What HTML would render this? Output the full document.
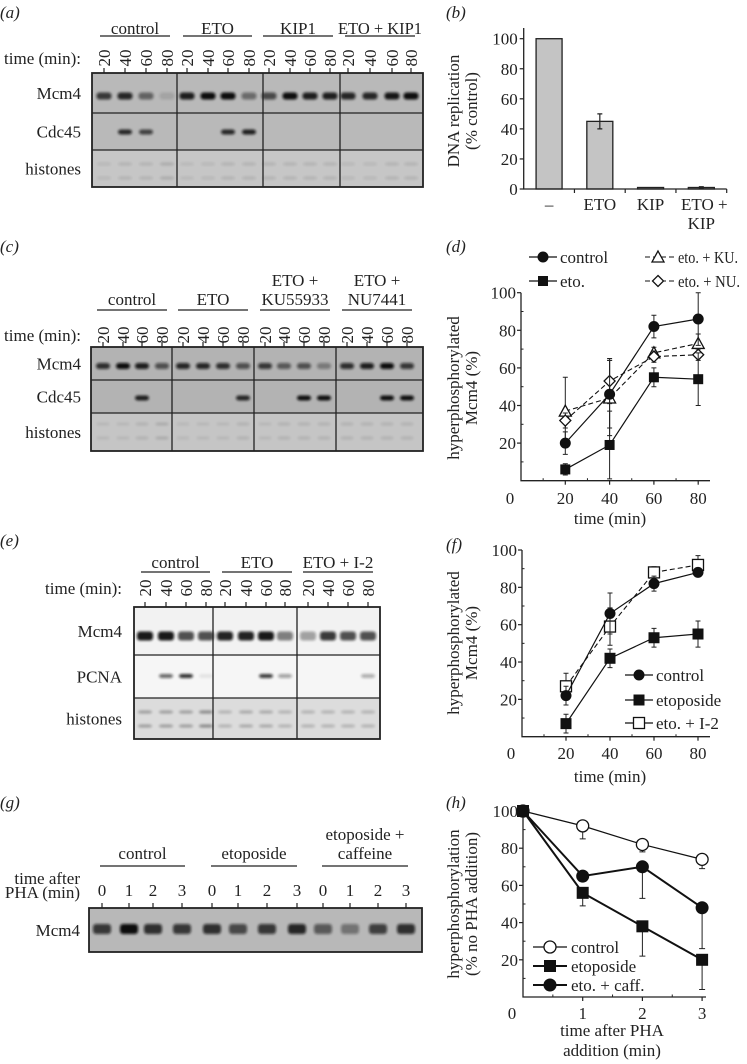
<!DOCTYPE html>
<html><head><meta charset="utf-8"><style>
html,body{margin:0;padding:0;background:#fff}
svg{display:block;font-family:"Liberation Serif",serif;fill:#222}
text{fill:#222}
</style></head><body>
<svg id="fig" width="747" height="1064" viewBox="0 0 747 1064" xmlns="http://www.w3.org/2000/svg">
<defs><filter id="bl" x="-50%" y="-100%" width="200%" height="300%"><feGaussianBlur stdDeviation="1.4"/></filter></defs>
<g font-size="17" font-style="italic">
<text x="0" y="18">(a)</text>
<text x="446" y="18">(b)</text>
<text x="0" y="252">(c)</text>
<text x="446" y="252">(d)</text>
<text x="0" y="546">(e)</text>
<text x="446" y="550">(f)</text>
<text x="0" y="808">(g)</text>
<text x="446" y="808">(h)</text>
</g>
<g id="blots"></g>
<g id="charts"></g>
</svg>
<script>
// ---------- chart data ----------
const bCategories = ["–", "ETO", "KIP", "ETO + KIP"];
const bValues = [100, 45, 1, 1];
const bErrors = [0, 5, 0, 0.5];
const bTicks = [0, 20, 40, 60, 80, 100];

const dTimes = [20, 40, 60, 80];
const dControl = [20, 46, 82, 86];
const dControlErr = [6, 18, 6, 14];
const dEto = [6, 19, 55, 54];
const dEtoErr = [3, 18, 5, 14];
const dKU = [37, 44, 68, 73];
const dKUErr = [18, 20, 3, 5];
const dNU = [32, 53, 66, 67];
const dNUErr = [4, 12, 3, 3];
const dTicksY = [20, 40, 60, 80, 100];
const dTicksX = [20, 40, 60, 80];

const fTimes = [20, 40, 60, 80];
const fControl = [22, 66, 82, 88];
const fControlErr = [5, 11, 4, 2];
const fEto = [7, 42, 53, 55];
const fEtoErr = [5, 5, 5, 7];
const fI2 = [27, 59, 88, 92];
const fI2Err = [7, 10, 3, 5];
const fTicksY = [20, 40, 60, 80, 100];
const fTicksX = [20, 40, 60, 80];

const hTimes = [0, 1, 2, 3];
const hControl = [100, 92, 82, 74];
const hControlErr = [0, 7, 4, 5];
const hEto = [100, 56, 38, 20];
const hEtoErr = [0, 7, 16, 16];
const hCaff = [100, 65, 70, 48];
const hCaffErr = [0, 0, 17, 22];
const hTicksY = [20, 40, 60, 80, 100];
const hTicksX = [1, 2, 3];

const NS = "http://www.w3.org/2000/svg";
function mk(tag, attrs, parent, txt) {
  const e = document.createElementNS(NS, tag);
  for (const k in attrs) e.setAttribute(k, attrs[k]);
  if (txt !== undefined) e.textContent = txt;
  parent.appendChild(e);
  return e;
}
const charts = document.getElementById("charts");
const blots = document.getElementById("blots");

// ---------- panel b ----------
(function () {
  const g = mk("g", {}, charts);
  
  
  const y = v => 189 - v * 1.503;
  const x0 = 523.7, bw = 50.75;
  const xc = i => x0 + bw * (i + 0.5);
  bValues.forEach((v, i) => {
    const r = mk("rect", { x: xc(i) - 13, y: y(v), width: 26, height: 189 - y(v), fill: "#c4c4c4", stroke: "#222", "stroke-width": 1.3 }, g);
    
    
    if (bErrors[i] > 0) {
      mk("path", { d: `M${xc(i)} ${y(v + bErrors[i])}V${y(v - bErrors[i])}M${xc(i) - 2.5} ${y(v + bErrors[i])}h5M${xc(i) - 2.5} ${y(v - bErrors[i])}h5`, stroke: "#222", "stroke-width": 1.2, fill: "none" }, g);
    }
  });
  mk("path", { d: `M${x0} 28V189H726.7`, stroke: "#222", "stroke-width": 1.3, fill: "none" }, g);
  bTicks.forEach(t => {
    mk("path", { d: `M${x0 - 4} ${y(t)}H${x0}`, stroke: "#222", "stroke-width": 1.2 }, g);
    const tx = mk("text", { x: x0 - 6, y: y(t) + 6, "text-anchor": "end", "font-size": 17 }, g, t);
    
    
  });
  for (let i = 1; i <= 4; i++) mk("path", { d: `M${x0 + bw * i} 189v4`, stroke: "#222", "stroke-width": 1.2 }, g);
  bCategories.forEach((c, i) => {
    const parts = c === "ETO + KIP" ? ["ETO +", "KIP"] : [c];
    parts.forEach((p, j) => {
      const tx = mk("text", { x: xc(i) + (j === 0 && parts.length > 1 ? 3 : 0), y: 210 + j * 19, "text-anchor": "middle", "font-size": 17 }, g, p);
      
      
    });
  });
  const yl = mk("text", { transform: "translate(459,111) rotate(-90)", "text-anchor": "middle", "font-size": 17 }, g, "DNA replication");
  
  
  const yl2 = mk("text", { transform: "translate(477,111) rotate(-90)", "text-anchor": "middle", "font-size": 17 }, g, "(% control)");
  
  
})();

// ---------- line chart helpers ----------
function marker(g, type, cx, cy, s) {
  let e;
  if (type === "circle") e = mk("circle", { cx, cy, r: s, fill: "#111", stroke: "#111" }, g);
  else if (type === "ocircle") e = mk("circle", { cx, cy, r: s, fill: "#fff", stroke: "#111", "stroke-width": 1.3 }, g);
  else if (type === "square") e = mk("rect", { x: cx - s, y: cy - s, width: 2 * s, height: 2 * s, fill: "#111" }, g);
  else if (type === "osquare") e = mk("rect", { x: cx - s, y: cy - s, width: 2 * s, height: 2 * s, fill: "#fff", stroke: "#111", "stroke-width": 1.3 }, g);
  else if (type === "otri") e = mk("path", { d: `M${cx} ${cy - s - 1}L${cx + s + 1} ${cy + s}L${cx - s - 1} ${cy + s}Z`, fill: "#fff", stroke: "#111", "stroke-width": 1.3 }, g);
  else if (type === "odiam") e = mk("path", { d: `M${cx} ${cy - s}L${cx + s} ${cy}L${cx} ${cy + s}L${cx - s} ${cy}Z`, fill: "#fff", stroke: "#111", "stroke-width": 1.3 }, g);
  return e;
}
function series(g, name, xs, vals, errs, X, Y, type, s, dash, lw, errDir) {
  const sg = mk("g", {}, g);
  
  
  xs.forEach((t, i) => {
    if (errs[i] > 0) {
      const up = Y(vals[i] + errs[i]), dn = Y(vals[i] - errs[i]);
      const d = errDir === "down" ? `M${X(t)} ${Y(vals[i])}V${dn}M${X(t) - 3} ${dn}h6` : errDir === "up" ? `M${X(t)} ${Y(vals[i])}V${up}M${X(t) - 3} ${up}h6` : `M${X(t)} ${up}V${dn}M${X(t) - 2.5} ${up}h5M${X(t) - 2.5} ${dn}h5`;
      mk("path", { d, stroke: "#222", "stroke-width": 1, fill: "none" }, sg);
    }
  });
  mk("path", { d: xs.map((t, i) => (i ? "L" : "M") + X(t) + " " + Y(vals[i])).join(""), fill: "none", stroke: "#111", "stroke-width": lw, "stroke-dasharray": dash || "none" }, sg);
  xs.forEach((t, i) => {
    const m = marker(sg, type, X(t), Y(vals[i]), s);
    
    
  });
}
function axes(g, X, Y, ticksX, ticksY, xEnd, minorX, minorY, labelY) {
  const x0 = X(0), y0 = Y(0);
  mk("path", { d: `M${x0} ${Y(100)}V${y0}H${xEnd}`, stroke: "#222", "stroke-width": 1.3, fill: "none" }, g);
  ticksY.forEach(t => {
    mk("path", { d: `M${x0 - 4} ${Y(t)}H${x0}`, stroke: "#222", "stroke-width": 1.2 }, g);
    const tx = mk("text", { x: x0 - 5, y: Y(t) + 6, "text-anchor": "end", "font-size": 17 }, g, t);
    
    
  });
  minorY.forEach(t => mk("path", { d: `M${x0} ${Y(t)}h2.5`, stroke: "#222", "stroke-width": 1 }, g));
  ticksX.forEach(t => {
    mk("path", { d: `M${X(t)} ${y0}v4`, stroke: "#222", "stroke-width": 1.2 }, g);
    const tx = mk("text", { x: X(t), y: labelY, "text-anchor": "middle", "font-size": 17 }, g, t);
    
    
  });
  minorX.forEach(t => mk("path", { d: `M${X(t)} ${y0}v-2.5`, stroke: "#222", "stroke-width": 1 }, g));
  const z = mk("text", { x: x0 - 11, y: labelY, "text-anchor": "middle", "font-size": 17 }, g, "0");
  
  
}
function ytitle(g, lines, cy, name) {
  lines.forEach((l, i) => {
    const t = mk("text", { transform: `translate(${459 + 18 * i},${cy}) rotate(-90)`, "text-anchor": "middle", "font-size": 17 }, g, l);
    
    
  });
}
function legendRow(g, x1, x2, mx, tx, cy, type, s, dash, lw, label, tl) {
  const lg = mk("g", {}, g);
  
  
  mk("path", { d: `M${x1} ${cy}H${x2}`, stroke: "#111", "stroke-width": lw, "stroke-dasharray": dash || "none" }, lg);
  marker(lg, type, mx, cy, s);
  const a = { x: tx, y: cy + 6, "font-size": 17 };
  if (tl) { a.textLength = tl; a.lengthAdjust = "spacingAndGlyphs"; }
  mk("text", a, lg, label);
}

// ---------- panel d ----------
(function () {
  const g = mk("g", {}, charts);
  
  
  const X = v => 521 + v * 2.215, Y = v => 480.7 - v * 1.88;
  axes(g, X, Y, dTicksX, dTicksY, 710, [10, 30, 50, 70], [10, 30, 50, 70, 90], 504);
  series(g, "series-eto-ku", dTimes, dKU, dKUErr, X, Y, "otri", 5, "5,3", 1.1, "both");
  series(g, "series-eto-nu", dTimes, dNU, dNUErr, X, Y, "odiam", 5.5, "5,3", 1.1, "both");
  series(g, "series-control", dTimes, dControl, dControlErr, X, Y, "circle", 5, null, 1.2, "both");
  series(g, "series-eto", dTimes, dEto, dEtoErr, X, Y, "square", 5, null, 1.2, "both");
  const xt = mk("text", { x: 610, y: 524, "text-anchor": "middle", "font-size": 17 }, g, "time (min)");
  
  
  ytitle(g, ["hyperphosphorylated", "Mcm4 (%)"], 388, 'd-y-axis-title');
  legendRow(g, 529, 557, 543, 560, 257, "circle", 5, null, 1.2, "control");
  legendRow(g, 529, 557, 543, 560, 281, "square", 5, null, 1.2, "eto.");
  legendRow(g, 645, 675, 658, 678, 257, "otri", 5, "5,3", 1.1, "eto. + KU.", 60);
  legendRow(g, 645, 675, 658, 678, 281, "odiam", 5.5, "5,3", 1.1, "eto. + NU.", 62);
})();

// ---------- panel f ----------
(function () {
  const g = mk("g", {}, charts);
  
  
  const X = v => 522 + v * 2.2, Y = v => 736.7 - v * 1.867;
  axes(g, X, Y, fTicksX, fTicksY, 710, [10, 30, 50, 70], [10, 30, 50, 70, 90], 759);
  series(g, "series-eto-i2", fTimes, fI2, fI2Err, X, Y, "osquare", 5.5, "5,3", 1.1, "both");
  series(g, "series-control", fTimes, fControl, fControlErr, X, Y, "circle", 5, null, 1.2, "both");
  series(g, "series-etoposide", fTimes, fEto, fEtoErr, X, Y, "square", 5.5, null, 1.2, "both");
  const xt = mk("text", { x: 610, y: 782, "text-anchor": "middle", "font-size": 17 }, g, "time (min)");
  
  
  ytitle(g, ["hyperphosphorylated", "Mcm4 (%)"], 643, 'f-y-axis-title');
  legendRow(g, 625, 653, 639, 656, 675, "circle", 5, null, 1.2, "control");
  legendRow(g, 625, 653, 639, 656, 700, "square", 5.5, null, 1.2, "etoposide");
  legendRow(g, 625, 653, 639, 656, 723, "osquare", 5.5, null, 1.2, "eto. + I-2");
})();

// ---------- panel h ----------
(function () {
  const g = mk("g", {}, charts);
  
  
  const X = v => 523 + v * 59.7, Y = v => 997 - v * 1.86;
  axes(g, X, Y, hTicksX, hTicksY, 706, [0.5, 1.5, 2.5], [10, 30, 50, 70, 90], 1019);
  series(g, "series-control", hTimes, hControl, hControlErr, X, Y, "ocircle", 6, null, 1.2, "down");
  series(g, "series-eto-caff", hTimes, hCaff, hCaffErr, X, Y, "circle", 6, null, 2, "down");
  series(g, "series-etoposide", hTimes, hEto, hEtoErr, X, Y, "square", 6, null, 2, "down");
  const xt = mk("text", { x: 612, y: 1036, "text-anchor": "middle", "font-size": 17 }, g, "time after PHA");
  
  
  const xt2 = mk("text", { x: 612, y: 1056, "text-anchor": "middle", "font-size": 17 }, g, "addition (min)");
  
  
  ytitle(g, ["hyperphosphorylation", "(% no PHA addition)"], 904, 'h-y-axis-title');
  legendRow(g, 533, 567, 550, 571, 947, "ocircle", 6, null, 1.2, "control");
  legendRow(g, 533, 567, 550, 571, 966, "square", 6, null, 2, "etoposide");
  legendRow(g, 533, 567, 550, 571, 985, "circle", 6, null, 2, "eto. + caff.");
})();

// ---------- blots ----------
function blot(cfg) {
  const g = mk("g", {}, blots);
  
  
  const [bx1, by1, bx2, by2] = cfg.box;
  cfg.rows.forEach((r, i) => {
    mk("rect", { x: bx1, y: r.y1, width: bx2 - bx1, height: r.y2 - r.y1, fill: r.bg }, g);
    const lab = mk("text", { x: cfg.labelX, y: (r.y1 + r.y2) / 2 + 6, "text-anchor": "end", "font-size": 17 }, g, r.label);
    
    
    r.bands.forEach((b, j) => {
      if (b <= 0) return;
      const cx = cfg.lanes[j];
      (r.ys || [(r.y1 + r.y2) / 2]).forEach(yy => {
        mk("rect", { x: cx - r.w / 2, y: yy - r.h / 2, width: r.w, height: r.h, rx: 3, fill: "#111", opacity: b, filter: "url(#bl)" }, g);
      });
    });
  });
  for (let i = 1; i < cfg.rows.length; i++) mk("path", { d: `M${bx1} ${cfg.rows[i].y1}H${bx2}`, stroke: "#222", "stroke-width": 1.3 }, g);
  cfg.cols.forEach(cx => mk("path", { d: `M${cx} ${by1}V${by2}`, stroke: "#222", "stroke-width": 1.3 }, g));
  mk("rect", { x: bx1, y: by1, width: bx2 - bx1, height: by2 - by1, fill: "none", stroke: "#222", "stroke-width": 1.8 }, g);
  cfg.lanes.forEach((cx, j) => {
    mk("path", { d: `M${cx} ${by1}v-5`, stroke: "#222", "stroke-width": 1.2 }, g);
    const t = cfg.laneLabels[j % cfg.laneLabels.length];
    let tx;
    if (cfg.rotate) tx = mk("text", { transform: `translate(${cx + 6},${cfg.laneY}) rotate(-90)`, "text-anchor": "middle", "font-size": 17 }, g, t);
    else tx = mk("text", { x: cx, y: cfg.laneY + 6, "text-anchor": "middle", "font-size": 17 }, g, t);
    
    
  });
  cfg.groups.forEach(gr => {
    gr.lines.forEach((l, k) => {
      const a = { x: (gr.x1 + gr.x2) / 2, y: gr.ty - (gr.lines.length - 1 - k) * 19, "text-anchor": "middle", "font-size": 17 };
      if (gr.tl) { a.textLength = gr.tl; a.lengthAdjust = "spacingAndGlyphs"; }
      const t = mk("text", a, g, l);
      
      
    });
    mk("path", { d: `M${gr.x1} ${gr.uy}H${gr.x2}`, stroke: "#222", "stroke-width": 1.3 }, g);
  });
  cfg.timeLabel.forEach((tl, k) => {
    const t = mk("text", { x: cfg.timeX, y: tl.y, "text-anchor": "end", "font-size": 17 }, g, tl.t);
    
    
  });
}

blot({
  name: "blot-a", box: [92, 73, 423, 187], cols: [177, 263, 340], labelX: 81,
  lanes: [104, 125, 146, 167, 187, 208, 228, 249, 269, 290, 310, 330, 348, 370, 392, 411],
  laneLabels: ["20", "40", "60", "80"], rotate: true, laneY: 58, timeX: 81, timeLabel: [{ y: 64, t: "time (min):" }],
  groups: [{ x1: 100, x2: 170, ty: 34, uy: 36, lines: ["control"] }, { x1: 183, x2: 252, ty: 34, uy: 36, lines: ["ETO"] },
           { x1: 263, x2: 333, ty: 34, uy: 36, lines: ["KIP1"] }, { x1: 345, x2: 415, ty: 34, uy: 36, lines: ["ETO + KIP1"], tl: 84 }],
  rows: [
    { y1: 73, y2: 113, bg: "#b9b9b9", label: "Mcm4", w: 15, h: 7, ys: [96], bands: [0.75, 0.85, 0.5, 0.12, 0.9, 1, 1, 0.45, 0.65, 1, 0.9, 0.9, 0.85, 0.85, 0.95, 1] },
    { y1: 113, y2: 150, bg: "#b9b9b9", label: "Cdc45", w: 14, h: 5, ys: [132], bands: [0, 0.85, 0.7, 0, 0, 0, 0.85, 0.9, 0, 0, 0, 0, 0, 0, 0, 0] },
    { y1: 150, y2: 187, bg: "#c6c6c6", label: "histones", w: 14, h: 3, ys: [164, 178], bands: [0.08, 0.1, 0.1, 0.14, 0.07, 0.08, 0.1, 0.1, 0.1, 0.1, 0.1, 0.1, 0.08, 0.08, 0.1, 0.1] }
  ]
});

blot({
  name: "blot-c", box: [91, 347, 423, 451], cols: [172, 254, 336], labelX: 81,
  lanes: [103, 123, 142, 162, 183, 203, 223, 243, 265, 284, 304, 324, 347, 367, 387, 407],
  laneLabels: ["20", "40", "60", "80"], rotate: true, laneY: 335, timeX: 81, timeLabel: [{ y: 341, t: "time (min):" }],
  groups: [{ x1: 97, x2: 167, ty: 305, uy: 310, lines: ["control"] }, { x1: 178, x2: 248, ty: 305, uy: 310, lines: ["ETO"] },
           { x1: 260, x2: 330, ty: 305, uy: 310, lines: ["ETO +", "KU55933"] }, { x1: 342, x2: 412, ty: 305, uy: 310, lines: ["ETO +", "NU7441"] }],
  rows: [
    { y1: 347, y2: 380, bg: "#b3b3b3", label: "Mcm4", w: 14, h: 6, ys: [366], bands: [0.8, 1, 0.9, 0.6, 0.85, 0.85, 0.8, 0.6, 0.75, 0.55, 0.6, 0.35, 0.8, 0.9, 1, 0.75] },
    { y1: 380, y2: 413, bg: "#b3b3b3", label: "Cdc45", w: 14, h: 5, ys: [398], bands: [0, 0, 0.9, 0, 0, 0, 0, 0.85, 0, 0, 1, 1, 0, 0, 1, 1] },
    { y1: 413, y2: 451, bg: "#c5c5c5", label: "histones", w: 13, h: 3, ys: [424, 438], bands: [0.08, 0.08, 0.1, 0.14, 0.07, 0.08, 0.08, 0.1, 0.08, 0.1, 0.1, 0.1, 0.1, 0.1, 0.1, 0.1] }
  ]
});

blot({
  name: "blot-e", box: [134, 607, 380, 739], cols: [213, 297], labelX: 122,
  lanes: [145, 166, 186, 206, 225, 246, 266, 285, 308, 328, 348, 368],
  laneLabels: ["20", "40", "60", "80"], rotate: true, laneY: 588, timeX: 122, timeLabel: [{ y: 594, t: "time (min):" }],
  groups: [{ x1: 141, x2: 210, ty: 568, uy: 572, lines: ["control"] }, { x1: 222, x2: 292, ty: 568, uy: 572, lines: ["ETO"] },
           { x1: 303, x2: 373, ty: 568, uy: 572, lines: ["ETO + I-2"] }],
  rows: [
    { y1: 607, y2: 655, bg: "#f2f2f2", label: "Mcm4", w: 16, h: 9, ys: [636], bands: [0.95, 0.95, 0.7, 0.7, 0.9, 0.9, 0.95, 0.5, 0.35, 0.8, 0.7, 0.7] },
    { y1: 655, y2: 698, bg: "#f6f6f6", label: "PCNA", w: 14, h: 4, ys: [676], bands: [0, 0.6, 0.85, 0.08, 0, 0, 0.8, 0.35, 0, 0, 0, 0.3] },
    { y1: 698, y2: 739, bg: "#dcdcdc", label: "histones", w: 14, h: 3, ys: [712, 726], bands: [0.3, 0.3, 0.3, 0.4, 0.2, 0.25, 0.25, 0.2, 0.2, 0.2, 0.2, 0.2] }
  ]
});

blot({
  name: "blot-g", box: [89, 908, 422, 952], cols: [], labelX: 80,
  lanes: [102, 129, 153, 182, 212, 238, 267, 297, 323, 350, 378, 406],
  laneLabels: ["0", "1", "2", "3"], rotate: false, laneY: 890, timeX: 80, timeLabel: [{ y: 884, t: "time after" }, { y: 898, t: "PHA (min)" }],
  groups: [{ x1: 100, x2: 185, ty: 859, uy: 866, lines: ["control"] }, { x1: 211, x2: 297, ty: 859, uy: 866, lines: ["etoposide"] },
           { x1: 322, x2: 408, ty: 859, uy: 866, lines: ["etoposide +", "caffeine"] }],
  rows: [
    { y1: 908, y2: 952, bg: "#b8b8b8", label: "Mcm4", w: 18, h: 10, ys: [929], bands: [0.75, 1, 0.8, 0.75, 0.8, 0.65, 0.75, 0.85, 0.55, 0.4, 0.7, 0.8] }
  ]
});
</script>
</body></html>
